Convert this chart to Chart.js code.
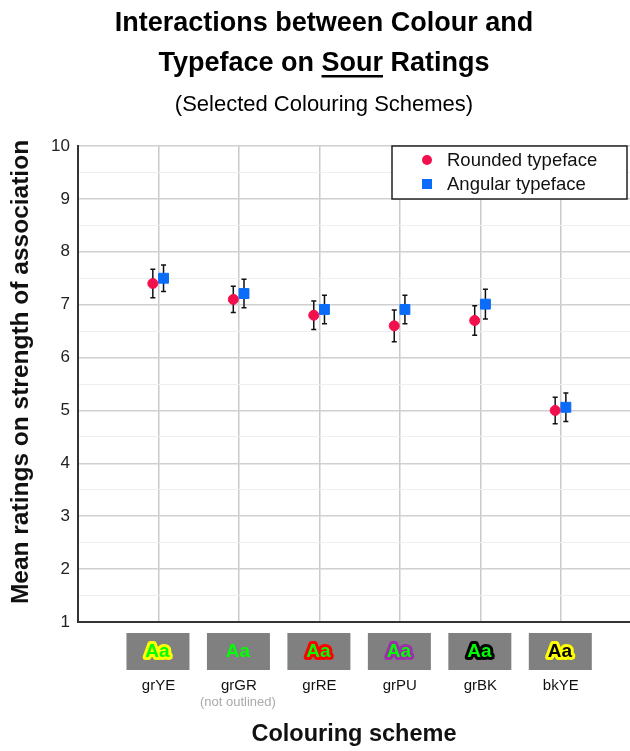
<!DOCTYPE html>
<html>
<head>
<meta charset="utf-8">
<title>Interactions between Colour and Typeface on Sour Ratings</title>
<script src="https://cdn.jsdelivr.net/npm/chart.js@4.4.1/dist/chart.umd.min.js"></script>
<style>
    html, body { margin: 0; padding: 0; background: #fff; overflow: hidden; }
    canvas { display: block; }
</style>
</head>
<body>
<canvas id="sour_chart" width="630" height="751"></canvas>
<script>
const categories = ["grYE", "grGR", "grRE", "grPU", "grBK", "bkYE"];
const roundedMeans = [7.40, 7.10, 6.80, 6.60, 6.70, 5.00];
const roundedErrors = [0.27, 0.25, 0.27, 0.30, 0.28, 0.25];
const angularMeans = [7.50, 7.21, 6.91, 6.91, 7.01, 5.06];
const angularErrors = [0.25, 0.27, 0.27, 0.27, 0.28, 0.27];
const yTicks = [1, 2, 3, 4, 5, 6, 7, 8, 9, 10];
// swatch colours: text fill and outline (null = no outline)
const swatchFill = ["#00ff00", "#00ff00", "#00ff00", "#00ff00", "#00ff00", "#000000"];
const swatchOutline = ["#ffff00", null, "#ff0000", "#9b30a8", "#000000", "#ffff00"];
const notes = ["", "(not outlined)", "", "", "", ""];

const red = "#f2104c";
const blue = "#0a6cf7";
const font = "'Liberation Sans', Arial, sans-serif";

const errorBars = {
    id: "errorBars",
    beforeDatasetsDraw(chart) {
        const ctx = chart.ctx;
        const y = chart.scales.y;
        const errs = [roundedErrors, angularErrors];
        ctx.save();
        ctx.strokeStyle = "#111";
        ctx.lineWidth = 1.5;
        chart.data.datasets.forEach((ds, d) => {
            chart.getDatasetMeta(d).data.forEach((pt, i) => {
                const v = ds.data[i].y;
                const top = y.getPixelForValue(v + errs[d][i]);
                const bot = y.getPixelForValue(v - errs[d][i]);
                ctx.beginPath();
                ctx.moveTo(pt.x, top);
                ctx.lineTo(pt.x, bot);
                ctx.moveTo(pt.x - 2.5, top);
                ctx.lineTo(pt.x + 2.5, top);
                ctx.moveTo(pt.x - 2.5, bot);
                ctx.lineTo(pt.x + 2.5, bot);
                ctx.stroke();
            });
        });
        ctx.restore();
    },
};

const decorations = {
    id: "decorations",
    afterDraw(chart) {
        const ctx = chart.ctx;
        const area = chart.chartArea;
        const x = chart.scales.x;
        const mid = 324;
        ctx.save();
        ctx.fillStyle = "#000";
        ctx.textAlign = "center";
        ctx.textBaseline = "alphabetic";

        // titles
        ctx.font = "bold 27px " + font;
        ctx.fillText("Interactions between Colour and", mid, 31);
        const l1 = "Typeface on ", l2 = "Sour", l3 = " Ratings";
        const w1 = ctx.measureText(l1).width;
        const w2 = ctx.measureText(l2).width;
        const w3 = ctx.measureText(l3).width;
        let sx = mid - (w1 + w2 + w3) / 2;
        ctx.textAlign = "left";
        ctx.fillText(l1, sx, 71);
        ctx.fillText(l2, sx + w1, 71);
        ctx.fillText(l3, sx + w1 + w2, 71);
        ctx.fillRect(sx + w1, 75, w2, 2.5);
        ctx.textAlign = "center";
        ctx.font = "22px " + font;
        ctx.fillText("(Selected Colouring Schemes)", mid, 111);

        // y axis title
        ctx.save();
        ctx.translate(21, 372);
        ctx.rotate(-Math.PI / 2);
        ctx.font = "bold 24.5px " + font;
        ctx.fillStyle = "#111";
        ctx.textBaseline = "middle";
        ctx.fillText("Mean ratings on strength of association", 0, 0);
        ctx.restore();

        // legend box
        const lx = area.right - 238, ly = area.top;
        ctx.fillStyle = "#fff";
        ctx.fillRect(lx, ly, 235, 53);
        ctx.strokeStyle = "#222";
        ctx.lineWidth = 1.5;
        ctx.strokeRect(lx, ly, 235, 53);
        ctx.fillStyle = red;
        ctx.beginPath();
        ctx.arc(lx + 35, ly + 14, 5, 0, Math.PI * 2);
        ctx.fill();
        ctx.fillStyle = blue;
        ctx.fillRect(lx + 30, ly + 33, 10, 10);
        ctx.fillStyle = "#111";
        ctx.textAlign = "left";
        ctx.textBaseline = "middle";
        ctx.font = "18.5px " + font;
        ctx.fillText("Rounded typeface", lx + 55, ly + 15);
        ctx.fillText("Angular typeface", lx + 55, ly + 39);

        // swatches under each category
        categories.forEach((c, i) => {
            const cx = x.getPixelForValue(i + 1) - 1;
            const top = area.bottom + 11;
            ctx.fillStyle = "#808080";
            ctx.fillRect(cx - 31, top, 63, 37);
            ctx.font = "bold 19px " + font;
            ctx.textAlign = "center";
            ctx.textBaseline = "middle";
            if (swatchOutline[i]) {
                ctx.strokeStyle = swatchOutline[i];
                ctx.lineWidth = 6;
                ctx.lineJoin = "round";
                ctx.strokeText("Aa", cx, top + 19);
            }
            ctx.fillStyle = swatchFill[i];
            ctx.fillText("Aa", cx, top + 19);
            if (notes[i]) {
                ctx.font = "13px " + font;
                ctx.fillStyle = "#aaa";
                ctx.fillText(notes[i], cx, area.bottom + 80);
            }
        });
        ctx.restore();
    },
};

new Chart(document.getElementById("sour_chart"), {
    type: "scatter",
    data: {
        datasets: [
            {
                label: "Rounded typeface",
                data: roundedMeans.map((v, i) => ({ x: i + 1 - 0.07, y: v })),
                backgroundColor: red,
                borderColor: red,
                pointStyle: "circle",
                pointRadius: 5,
                pointHoverRadius: 5,
            },
            {
                label: "Angular typeface",
                data: angularMeans.map((v, i) => ({ x: i + 1 + 0.063, y: v })),
                backgroundColor: blue,
                borderColor: blue,
                pointStyle: "rect",
                pointRadius: 7,
                pointHoverRadius: 7,
            },
        ],
    },
    options: {
        responsive: false,
        animation: false,
        events: [],
        layout: { autoPadding: false, padding: { top: 146, right: 0, left: 0, bottom: 0 } },
        plugins: {
            legend: { display: false },
            tooltip: { enabled: false },
        },
        scales: {
            x: {
                type: "linear",
                min: 0,
                max: 6.86,
                afterBuildTicks: (scale) => {
                    scale.ticks = categories.map((c, i) => ({ value: i + 1 }));
                },
                afterFit: (scale) => {
                    scale.height = 129;
                    scale.paddingLeft = 0;
                    scale.paddingRight = 0;
                },
                ticks: {
                    callback: (v) => categories[v - 1] || "",
                    font: { family: font, size: 15 },
                    color: "#111",
                    padding: 55,
                    maxRotation: 0,
                },
                grid: { color: "#cacaca", lineWidth: 1.5, drawTicks: false },
                border: { color: "#333", width: 2 },
                title: {
                    display: true,
                    text: "Colouring scheme",
                    font: { family: font, size: 23.5, weight: "bold" },
                    color: "#111",
                    padding: { top: 0, bottom: 2 },
                },
            },
            y: {
                min: yTicks[0],
                max: yTicks[yTicks.length - 1],
                afterFit: (scale) => {
                    scale.width = 78;
                },
                ticks: {
                    stepSize: 0.5,
                    callback: (v) => (yTicks.includes(v) ? v : ""),
                    font: { family: font, size: 17 },
                    color: "#222",
                    padding: 8,
                },
                grid: {
                    color: (c) => (c.tick && Number.isInteger(c.tick.value) ? "#d0d0d0" : "#efefef"),
                    lineWidth: (c) => (c.tick && Number.isInteger(c.tick.value) ? 1.5 : 1),
                    drawTicks: false,
                },
                border: { color: "#333", width: 2 },
            },
        },
    },
    plugins: [errorBars, decorations],
});
</script>
</body>
</html>
